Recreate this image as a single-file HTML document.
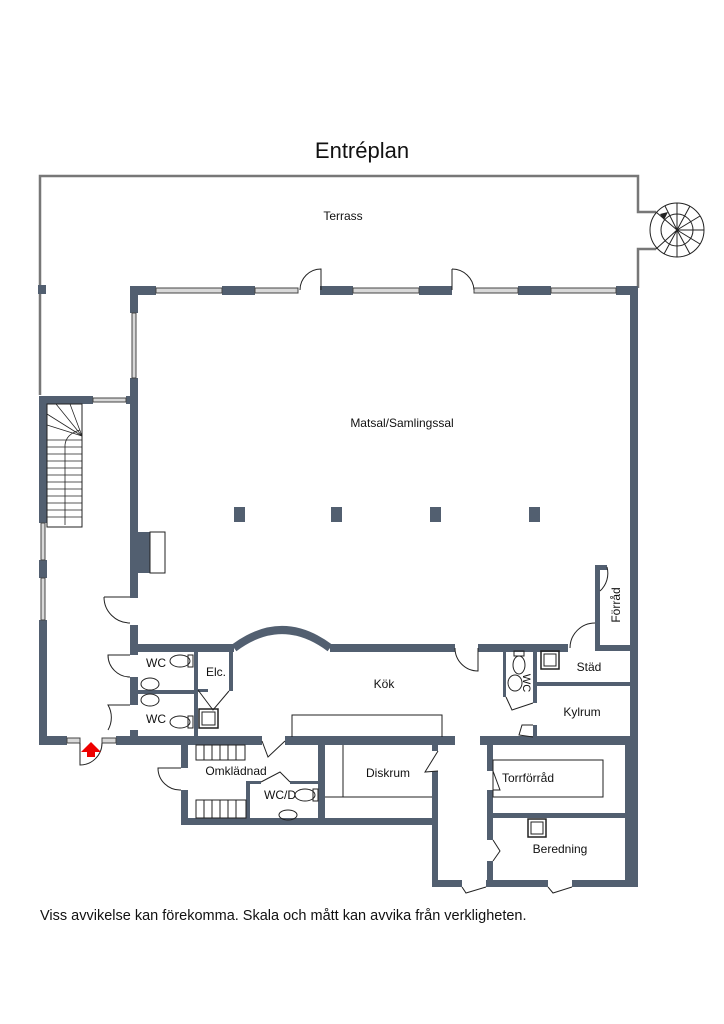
<!DOCTYPE html>
<html><head><meta charset="utf-8"><style>
html,body{margin:0;padding:0;background:#fff;width:724px;height:1024px;overflow:hidden}
svg{display:block}
text{font-family:"Liberation Sans",sans-serif;fill:#111}
</style></head><body>
<svg width="724" height="1024" viewBox="0 0 724 1024" xmlns="http://www.w3.org/2000/svg">
<rect width="724" height="1024" fill="#fff"/>
<text x="362" y="158" font-size="22" text-anchor="middle">Entréplan</text>

<g fill="none" stroke="#777" stroke-width="2.5">
<polyline points="40,395 40,176 638,176 638,212 656,212"/>
<polyline points="656,249 638,249 638,288"/>
</g>
<rect x="38" y="285" width="8" height="9" fill="#525f70"/>
<g fill="none" stroke="#222" stroke-width="1">
<circle cx="677" cy="230" r="27"/>
<circle cx="677" cy="230" r="16"/>
<line x1="656" y1="212" x2="677" y2="230"/><line x1="656" y1="249" x2="677" y2="230"/>
<line x1="677" y1="203" x2="677" y2="230"/><line x1="690" y1="206" x2="677" y2="230"/>
<line x1="700" y1="216" x2="677" y2="230"/><line x1="704" y1="230" x2="677" y2="230"/>
<line x1="700" y1="244" x2="677" y2="230"/><line x1="690" y1="254" x2="677" y2="230"/>
<line x1="677" y1="257" x2="677" y2="230"/><line x1="664" y1="254" x2="677" y2="230"/>
<line x1="665" y1="206" x2="677" y2="230"/>
</g>
<polygon points="660,214 668,212 664,220" fill="#222"/>

<g fill="#525f70">
<rect x="130" y="286" width="26" height="9"/>
<rect x="222" y="286" width="33" height="9"/>
<rect x="320" y="286" width="33" height="9"/>
<rect x="419" y="286" width="33" height="9"/>
<rect x="518" y="286" width="33" height="9"/>
<rect x="616" y="286" width="22" height="9"/>
<rect x="130" y="286" width="8" height="27"/>
<rect x="130" y="378" width="8" height="220"/>
<rect x="130" y="532" width="20" height="41"/>
<rect x="130" y="625" width="8" height="30"/>
<rect x="130" y="677" width="8" height="28"/>
<rect x="130" y="730" width="8" height="12"/>
<rect x="630" y="286" width="8" height="601"/>
<rect x="39" y="396" width="54" height="8"/>
<rect x="126" y="396" width="12" height="8"/>
<rect x="39" y="396" width="8" height="127"/>
<rect x="39" y="560" width="8" height="18"/>
<rect x="39" y="620" width="8" height="125"/>
<rect x="39" y="736" width="28" height="9"/>
<rect x="116" y="736" width="146" height="9"/>
<rect x="285" y="736" width="170" height="9"/>
<rect x="480" y="736" width="158" height="9"/>
<rect x="138" y="644" width="96" height="8"/>
<rect x="330" y="644" width="125" height="8"/>
<rect x="478" y="644" width="90" height="8"/>
<rect x="595" y="645" width="35" height="6"/>
<rect x="595" y="565" width="5" height="86"/>
<rect x="595" y="565" width="12" height="5"/>
<rect x="194" y="651" width="4" height="86"/>
<rect x="138" y="690" width="60" height="4"/>
<rect x="229" y="651" width="4" height="40"/>
<rect x="198" y="689" width="10" height="3"/>
<rect x="503" y="651" width="3" height="46"/>
<rect x="533" y="651" width="4" height="52"/>
<rect x="533" y="725" width="4" height="12"/>
<rect x="533" y="682" width="97" height="4"/>
<rect x="181" y="745" width="7" height="23"/>
<rect x="181" y="790" width="7" height="35"/>
<rect x="181" y="818" width="257" height="7"/>
<rect x="318" y="745" width="7" height="80"/>
<rect x="246" y="781" width="4" height="40"/>
<rect x="246" y="781" width="15" height="3"/>
<rect x="290" y="781" width="28" height="3"/>
<rect x="432" y="745" width="6" height="6"/>
<rect x="432" y="771" width="6" height="116"/>
<rect x="432" y="880" width="30" height="7"/>
<rect x="486" y="880" width="62" height="7"/>
<rect x="572" y="880" width="66" height="7"/>
<rect x="487" y="745" width="6" height="26"/>
<rect x="487" y="790" width="6" height="50"/>
<rect x="487" y="861" width="6" height="26"/>
<rect x="493" y="813" width="137" height="5"/>
<rect x="625" y="745" width="5" height="140"/>
<rect x="234" y="507" width="11" height="15"/>
<rect x="331" y="507" width="11" height="15"/>
<rect x="430" y="507" width="11" height="15"/>
<rect x="529" y="507" width="11" height="15"/>
</g>
<path d="M234,648 Q282,612 330,648" fill="none" stroke="#525f70" stroke-width="8"/>

<g fill="#d8d8d8" stroke="#444" stroke-width="1">
<rect x="156" y="288" width="66" height="5"/>
<rect x="255" y="288" width="43" height="5"/>
<rect x="353" y="288" width="66" height="5"/>
<rect x="474" y="288" width="44" height="5"/>
<rect x="551" y="288" width="65" height="5"/>
<rect x="132" y="313" width="4" height="65"/>
<rect x="93" y="398" width="33" height="4"/>
<rect x="41" y="523" width="4" height="37"/>
<rect x="41" y="578" width="4" height="42"/>
<rect x="67" y="738" width="13" height="5"/>
<rect x="102" y="738" width="14" height="5"/>
</g>

<g fill="none" stroke="#222" stroke-width="1">
<path d="M300,290 A21,21 0 0 1 321,269 L321,290"/>
<path d="M452,269 A22,22 0 0 1 474,290 L474,290"/><line x1="452" y1="269" x2="452" y2="290"/>
<rect x="150" y="532" width="15" height="41"/>
<rect x="47" y="404" width="35" height="123"/>
<g stroke-width="0.8">
<line x1="47" y1="440" x2="82" y2="440"/><line x1="47" y1="447" x2="82" y2="447"/><line x1="47" y1="454" x2="82" y2="454"/><line x1="47" y1="461" x2="82" y2="461"/><line x1="47" y1="468" x2="82" y2="468"/><line x1="47" y1="475" x2="82" y2="475"/><line x1="47" y1="482" x2="82" y2="482"/><line x1="47" y1="489" x2="82" y2="489"/><line x1="47" y1="496" x2="82" y2="496"/><line x1="47" y1="503" x2="82" y2="503"/><line x1="47" y1="510" x2="82" y2="510"/><line x1="47" y1="517" x2="82" y2="517"/>
<line x1="82" y1="436" x2="56" y2="404"/><line x1="82" y1="436" x2="70" y2="404"/><line x1="82" y1="436" x2="47" y2="414"/><line x1="82" y1="436" x2="47" y2="425"/>
<path d="M65,525 L65,445 Q66,434 80,430"/>
</g>
<path d="M104,597 L130,597 M104,597 A26,26 0 0 0 130,623"/>
<path d="M130,655 L108,655 A22,22 0 0 0 130,677"/>
<path d="M130,705 L108,705 A25,25 0 0 1 108,730"/>
<path d="M80,743 L80,765 A22,22 0 0 0 102,743"/>
<path d="M198,690 L213,710 L229,691"/>
<path d="M262,741 L268,757 L285,741"/>
<path d="M455,648 A23,23 0 0 0 478,671 L478,648"/>
<path d="M570,648 A25,25 0 0 1 595,623"/>
<path d="M607,567 A24,24 0 0 1 600,591"/>
<path d="M506,697 L512,710 L533,703"/>
<path d="M533,725 L522,725 L519,735 L533,737"/>
<path d="M181,768 L158,768 A22,22 0 0 0 181,790"/>
<path d="M261,782 L280,772 L290,782"/>
<path d="M438,751 L425,772 L438,771"/>
<path d="M493,771 L500,790 L493,790"/>
<path d="M493,840 L500,851 L493,861"/>
<path d="M462,887 L466,893 L486,887"/>
<path d="M548,887 L553,893 L572,887"/>
<polyline points="292,737 292,715 442,715 442,737"/>
<line x1="343" y1="745" x2="343" y2="797"/>
<line x1="325" y1="797" x2="432" y2="797"/>
<rect x="493" y="760" width="110" height="37"/>
<rect x="196" y="745" width="49" height="15"/>
<line x1="204" y1="745" x2="204" y2="760"/><line x1="212" y1="745" x2="212" y2="760"/><line x1="220" y1="745" x2="220" y2="760"/><line x1="228" y1="745" x2="228" y2="760"/><line x1="236" y1="745" x2="236" y2="760"/>
<rect x="196" y="800" width="50" height="18"/>
<line x1="204" y1="800" x2="204" y2="818"/><line x1="212" y1="800" x2="212" y2="818"/><line x1="220" y1="800" x2="220" y2="818"/><line x1="228" y1="800" x2="228" y2="818"/><line x1="236" y1="800" x2="236" y2="818"/>
<ellipse cx="180" cy="661" rx="10" ry="6"/><rect x="188" y="655" width="5" height="12"/>
<ellipse cx="180" cy="722" rx="10" ry="6"/><rect x="188" y="716" width="5" height="12"/>
<ellipse cx="150" cy="684" rx="9" ry="6"/><ellipse cx="150" cy="700" rx="9" ry="6"/>
<rect x="199" y="709" width="19" height="19" stroke-width="1.5"/><rect x="202" y="712" width="13" height="13"/>
<ellipse cx="305" cy="795" rx="10" ry="6"/><rect x="313" y="789" width="5" height="12"/>
<ellipse cx="288" cy="815" rx="9" ry="5"/>
<ellipse cx="519" cy="665" rx="6" ry="9"/><rect x="514" y="651" width="10" height="5"/>
<ellipse cx="515" cy="683" rx="7" ry="8"/>
<rect x="541" y="651" width="18" height="18" stroke-width="1.5"/><rect x="544" y="654" width="12" height="12"/>
<rect x="528" y="819" width="18" height="18" stroke-width="1.5"/><rect x="531" y="822" width="12" height="12"/>
</g>
<polygon points="91,742 81,752 87,752 87,757 95,757 95,752 101,752" fill="#e00"/>

<g font-size="12">
<text x="343" y="220" text-anchor="middle">Terrass</text>
<text x="402" y="427" text-anchor="middle">Matsal/Samlingssal</text>
<text x="384" y="688" text-anchor="middle">Kök</text>
<text x="156" y="667" text-anchor="middle">WC</text>
<text x="156" y="723" text-anchor="middle">WC</text>
<text x="216" y="676" text-anchor="middle">Elc.</text>
<text x="236" y="775" text-anchor="middle">Omklädnad</text>
<text x="280" y="799" text-anchor="middle">WC/D</text>
<text x="388" y="777" text-anchor="middle">Diskrum</text>
<text x="528" y="782" text-anchor="middle">Torrförråd</text>
<text x="560" y="853" text-anchor="middle">Beredning</text>
<text x="582" y="716" text-anchor="middle">Kylrum</text>
<text x="589" y="671" text-anchor="middle">Städ</text>
<text transform="translate(620,605) rotate(-90)" text-anchor="middle">Förråd</text>
<text transform="translate(523,683) rotate(90)" text-anchor="middle" font-size="11">WC</text>
</g>
<text x="40" y="920" font-size="14.5">Viss avvikelse kan förekomma. Skala och mått kan avvika från verkligheten.</text>
</svg>
</body></html>
